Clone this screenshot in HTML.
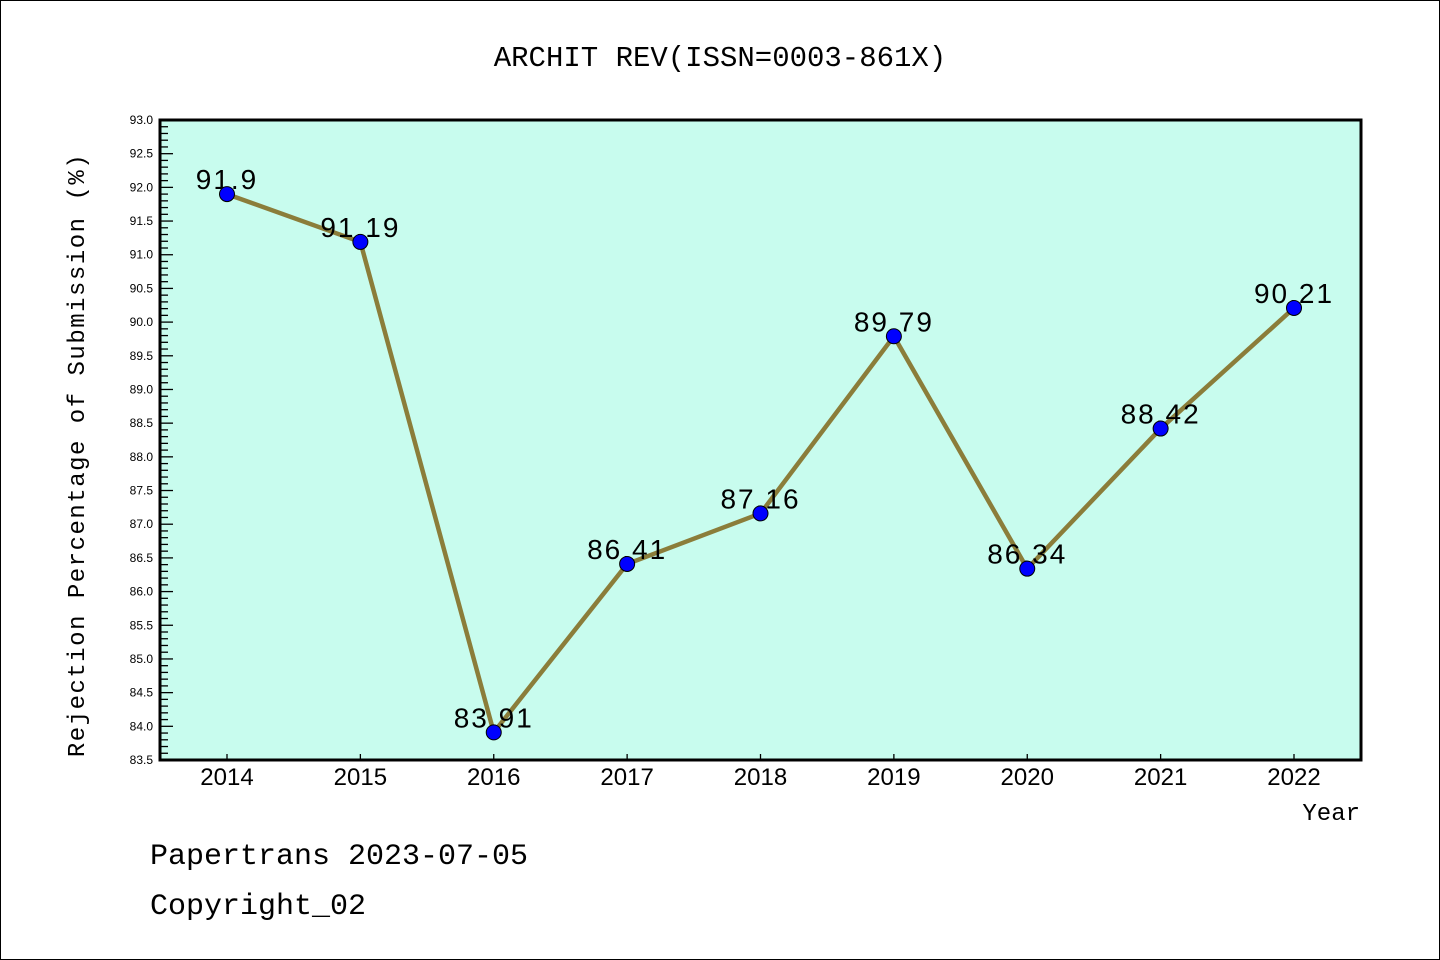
<!DOCTYPE html>
<html><head><meta charset="utf-8"><style>
body{margin:0;background:#fff;}
svg{display:block;font-family:"Liberation Mono","DejaVu Sans Mono",monospace;}
</style></head><body>
<svg id="c" width="1440" height="960">
<rect x="0.5" y="0.5" width="1439" height="959" fill="#fff" stroke="#000"/>
<text x="720" y="66" font-size="29" text-anchor="middle">ARCHIT REV(ISSN=0003-861X)</text>
<rect x="160" y="120" width="1201" height="640" fill="#c8fcee" stroke="#000" stroke-width="3"/>
<g id="ticks"></g>
<g id="series"></g>
<text transform="translate(84,455) rotate(-90)" font-size="24" letter-spacing="1.5" text-anchor="middle">Rejection Percentage of Submission (%)</text>
<text x="1360" y="820" font-size="24" text-anchor="end">Year</text>
<text x="150" y="864" font-size="30">Papertrans 2023-07-05</text>
<text x="150" y="914" font-size="30">Copyright_02</text>
</svg>
<script>
const years=["2014","2015","2016","2017","2018","2019","2020","2021","2022"];
const values=[91.9,91.19,83.91,86.41,87.16,89.79,86.34,88.42,90.21];
const labels=["91.9","91.19","83.91","86.41","87.16","89.79","86.34","88.42","90.21"];
const yMin=83.5,yMax=93.0;
const NS="http://www.w3.org/2000/svg";
function y(v){return 760-(v-yMin)/(yMax-yMin)*640;}
function x(i){return 227+i*(1294-227)/(years.length-1);}
function mk(t,a,p){const e=document.createElementNS(NS,t);for(const k in a)e.setAttribute(k,a[k]);p.appendChild(e);return e;}
const tg=document.getElementById('ticks');
for(let k=0;k<=95;k++){
  const v=yMin+k*0.1;const yy=y(v);const major=k%5===0;
  const l=mk('line',{x1:160,x2:160+(major?13:8),y1:yy,y2:yy,stroke:'#000','stroke-width':1.3},tg);
  
  
  if(major){const t=mk('text',{x:153,y:yy+4,'font-size':12,'text-anchor':'end','font-family':'Liberation Sans, sans-serif'},tg);t.textContent=v.toFixed(1);
  
  }
}
years.forEach((yr,i)=>{
  const l=mk('line',{x1:x(i),x2:x(i),y1:760,y2:754,stroke:'#000','stroke-width':1.3},tg);
  
  
  const t=mk('text',{x:x(i),y:785,'font-size':24,'text-anchor':'middle','font-family':'Liberation Sans, sans-serif'},tg);t.textContent=yr;
  
  
});
const sg=document.getElementById('series');
const pl=mk('polyline',{points:values.map((v,i)=>x(i)+','+y(v)).join(' '),fill:'none',stroke:'#8b7d3a','stroke-width':4.5},sg);


values.forEach((v,i)=>{
  const t=mk('text',{x:x(i),y:y(v)-5,'font-size':28,'letter-spacing':'2','text-anchor':'middle','font-family':'Liberation Sans, sans-serif'},sg);t.textContent=labels[i];
  
  
});
values.forEach((v,i)=>{
  const c=mk('circle',{cx:x(i),cy:y(v),r:7.5,fill:'#0000ff',stroke:'#000','stroke-width':1},sg);
  
  
});
</script>
</body></html>
